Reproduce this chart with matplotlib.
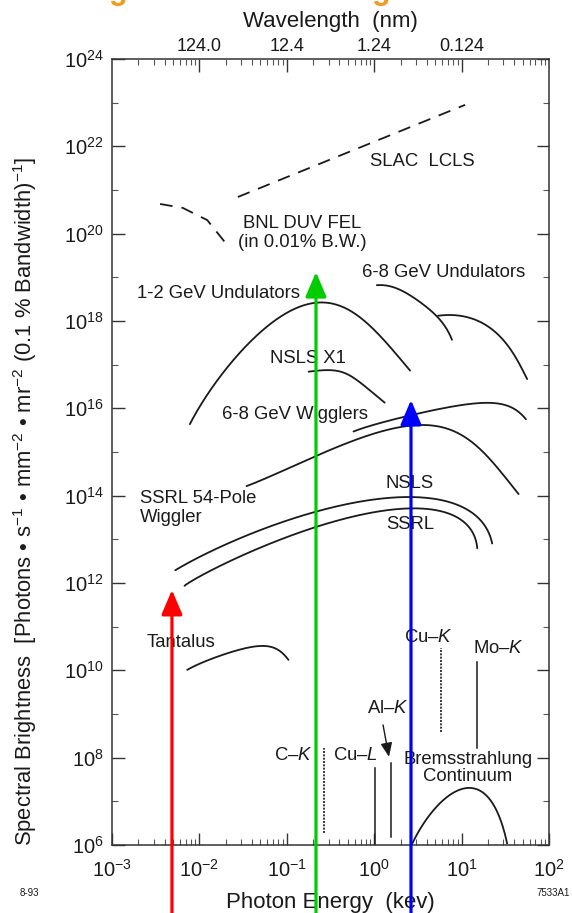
import numpy as np
import matplotlib
matplotlib.use("Agg")
import matplotlib.pyplot as plt
from matplotlib.ticker import FixedLocator, NullFormatter, LogLocator
from matplotlib.transforms import blended_transform_factory

plt.rcParams['font.family'] = ['Liberation Sans', 'DejaVu Sans']
plt.rcParams['mathtext.fontset'] = 'custom'
plt.rcParams['mathtext.rm'] = 'Liberation Sans'
plt.rcParams['mathtext.it'] = 'Liberation Sans:italic'
plt.rcParams['mathtext.bf'] = 'Liberation Sans:bold'

# ---------------- data (log10 of photon energy [keV], log10 of brightness) ----------------
slac_lcls_logE = [-1.56, 1.04]
slac_lcls_logB = [20.84, 22.95]

bnl_fel_logE = [-2.45, -2.19, -1.91, -1.71]
bnl_fel_logB = [20.68, 20.59, 20.31, 19.81]

und12_logE = [-2.11, -1.88, -1.61, -1.31, -1.00, -0.70, -0.47, -0.16, 0.10, 0.41]
und12_logB = [15.66, 16.34, 17.11, 17.79, 18.21, 18.37, 18.34, 18.10, 17.64, 16.84]

und68a_logE = [0.03, 0.30, 0.52, 0.72, 0.89]
und68a_logB = [18.82, 18.71, 18.44, 18.10, 17.57]
und68b_logE = [0.73, 1.06, 1.36, 1.59, 1.75]
und68b_logB = [18.12, 18.09, 17.79, 17.26, 16.67]

nslsx1_logE = [-0.75, -0.43, -0.20, 0.12]
nslsx1_logB = [16.84, 16.86, 16.65, 16.13]

wig68_logE = [-0.24, 0.10, 0.49, 0.91, 1.29, 1.52, 1.74]
wig68_logB = [15.47, 15.67, 15.89, 16.04, 16.13, 16.05, 15.75]

ssrl54_logE = [-1.46, -1.08, -0.70, -0.24, 0.22, 0.52, 0.83, 1.06, 1.44, 1.63]
ssrl54_logB = [14.21, 14.55, 14.89, 15.28, 15.50, 15.58, 15.57, 15.28, 14.66, 14.06]

nsls_logE = [-2.28, -1.99, -1.61, -1.15, -0.70, -0.24, 0.30, 0.68, 0.98, 1.21, 1.36]
nsls_logB = [12.30, 12.57, 12.99, 13.33, 13.60, 13.83, 13.98, 13.95, 13.75, 13.40, 12.91]

ssrl_logE = [-2.20, -1.92, -1.61, -1.15, -0.70, -0.24, 0.45, 0.68, 0.91, 1.06, 1.21]
ssrl_logB = [11.92, 12.21, 12.53, 12.91, 13.29, 13.56, 13.73, 13.69, 13.48, 13.21, 12.80]

tantalus_logE = [-2.14, -1.88, -1.61, -1.34, -1.15, -0.98]
tantalus_logB = [10.01, 10.25, 10.43, 10.56, 10.51, 10.24]

brems_logE = [0.43, 0.56, 0.72, 0.91, 1.06, 1.25, 1.40, 1.52]
brems_logB = [6.00, 6.50, 6.88, 7.19, 7.30, 7.22, 6.78, 6.04]

# characteristic lines: name, log10 E, log10 B bottom, log10 B top
line_names = ['C-K', 'Cu-L', 'Al-K', 'Cu-K', 'Mo-K']
line_logE = [-0.574, 0.009, 0.192, 0.764, 1.176]
line_logB_low = [6.28, 6.00, 6.18, 8.59, 8.22]
line_logB_high = [8.22, 7.76, 7.88, 10.51, 10.19]
line_dotted = [True, False, False, True, False]

# coloured marker arrows: log10 E, log10 B of tip
arrow_colors = ['#ff0000', '#00cc00', '#0000ff']
arrow_logE = [-2.314, -0.666, 0.421]
arrow_logB = [11.84, 19.12, 16.19]

x_tick_exps = [-3, -2, -1, 0, 1, 2]
y_tick_exps = [6, 8, 10, 12, 14, 16, 18, 20, 22, 24]
wl_tick_E = [0.01, 0.1, 1.0, 10.0]
wl_tick_labels = ['124.0', '12.4', '1.24', '0.124']

# ---------------- figure ----------------
W, H = 572, 913
fig = plt.figure(figsize=(W / 100, H / 100), dpi=100)
ax = fig.add_axes([112 / W, 1 - 845 / H, (549 - 112) / W, (845 - 59) / H])
ax.set_xscale('log')
ax.set_yscale('log')
ax.set_xlim(1e-3, 1e2)
ax.set_ylim(1e6, 1e24)

def p(le, lb):
    return 10 ** np.array(le), 10 ** np.array(lb)

cc = '#1a1a1a'
lw = 1.3
ax.plot(*p(slac_lcls_logE, slac_lcls_logB), color=cc, lw=lw, dashes=(7, 5))
ax.plot(*p(bnl_fel_logE, bnl_fel_logB), color=cc, lw=lw, dashes=(7, 5))
for le, lb in [(und12_logE, und12_logB), (und68a_logE, und68a_logB), (und68b_logE, und68b_logB),
               (nslsx1_logE, nslsx1_logB), (wig68_logE, wig68_logB), (ssrl54_logE, ssrl54_logB),
               (nsls_logE, nsls_logB), (ssrl_logE, ssrl_logB), (tantalus_logE, tantalus_logB),
               (brems_logE, brems_logB)]:
    # smooth through the read points in log space
    t = np.linspace(0, 1, len(le))
    ts = np.linspace(0, 1, 200)
    deg = min(len(le) - 1, 4)
    cx = np.polyfit(t, le, deg)
    cy = np.polyfit(t, lb, deg)
    ax.plot(10 ** np.polyval(cx, ts), 10 ** np.polyval(cy, ts), color=cc, lw=lw,
            solid_capstyle='round')

for le, l0, l1, dot in zip(line_logE, line_logB_low, line_logB_high, line_dotted):
    ax.plot([10 ** le, 10 ** le], [10 ** l0, 10 ** l1], color=cc,
            lw=1.2 if dot else 1.1, ls=(0, (1.2, 0.8)) if dot else '-')

# Al-K arrow
ax.annotate('', xy=(10 ** 0.169, 10 ** 8.02), xytext=(10 ** 0.101, 10 ** 8.75),
            arrowprops=dict(arrowstyle='-|>,head_width=0.25,head_length=0.6', color=cc,
                            lw=1.0, shrinkA=0, shrinkB=0, mutation_scale=14))

# ---------------- labels ----------------
fs = 13.3
ax.text(10 ** -0.048, 10 ** 21.66, 'SLAC  LCLS', fontsize=fs, va='center', ha='left', color=cc)
ax.text(10 ** -0.826, 10 ** 20.02, 'BNL DUV FEL\n(in 0.01% B.W.)', fontsize=fs, va='center',
        ha='center', multialignment='center', color=cc, linespacing=1.15)
ax.text(10 ** -0.140, 10 ** 19.12, '6-8 GeV Undulators', fontsize=fs, va='center', color=cc)
ax.text(10 ** -2.714, 10 ** 18.64, '1-2 GeV Undulators', fontsize=fs, va='center', color=cc)
ax.text(10 ** -1.192, 10 ** 17.15, 'NSLS X1', fontsize=fs, va='center', color=cc)
ax.text(10 ** -1.741, 10 ** 15.85, '6-8 GeV Wigglers', fontsize=fs, va='center', color=cc)
ax.text(10 ** -2.680, 10 ** 13.72, 'SSRL 54-Pole\nWiggler', fontsize=fs, va='center',
        color=cc, linespacing=1.1)
ax.text(10 ** 0.135, 10 ** 14.29, 'NSLS', fontsize=fs, va='center', color=cc)
ax.text(10 ** 0.135, 10 ** 13.33, 'SSRL', fontsize=fs, va='center', color=cc)
ax.text(10 ** -2.600, 10 ** 10.63, 'Tantalus', fontsize=fs, va='center', color=cc)
ax.text(10 ** 0.341, 10 ** 10.76, 'Cu\u2013$K$', fontsize=fs, va='center', color=cc)
ax.text(10 ** 1.130, 10 ** 10.51, 'Mo\u2013$K$', fontsize=fs, va='center', color=cc)
ax.text(10 ** -0.082, 10 ** 9.12, 'Al\u2013$K$', fontsize=fs, va='center', color=cc)
ax.text(10 ** -1.146, 10 ** 8.06, 'C\u2013$K$', fontsize=fs, va='center', color=cc)
ax.text(10 ** -0.471, 10 ** 8.06, 'Cu\u2013$L$', fontsize=fs, va='center', color=cc)
ax.text(10 ** 1.073, 10 ** 7.76, 'Bremsstrahlung\nContinuum', fontsize=fs, va='center',
        ha='center', multialignment='center', color=cc, linespacing=1.0)

# ---------------- axes styling ----------------
for s in ax.spines.values():
    s.set_color('#333333')
    s.set_linewidth(1.1)
ax.xaxis.set_major_locator(FixedLocator([10.0 ** e for e in x_tick_exps]))
ax.set_xticklabels(['$10^{%d}$' % e for e in x_tick_exps])
ax.yaxis.set_major_locator(FixedLocator([10.0 ** e for e in y_tick_exps]))
ax.set_yticklabels(['$10^{%d}$' % e for e in y_tick_exps])
ax.xaxis.set_minor_locator(LogLocator(base=10, subs=np.arange(2, 10), numticks=100))
ax.yaxis.set_minor_locator(FixedLocator([10.0 ** e for e in range(7, 24, 2)]))
ax.xaxis.set_minor_formatter(NullFormatter())
ax.yaxis.set_minor_formatter(NullFormatter())
ax.tick_params(which='major', direction='in', length=9, width=1.0, color='#333333',
               labelsize=14.5, labelcolor=cc, right=True, top=False)
ax.tick_params(axis='x', which='major', pad=10)
ax.tick_params(axis='y', which='major', pad=6)
ax.tick_params(which='minor', direction='in', length=4, width=0.8, color='#555555', right=True, top=False)
ax.set_xlabel('Photon Energy  (kev)', fontsize=16, color=cc, labelpad=8)

ax2 = ax.twiny()
ax2.set_xscale('log')
ax2.set_xlim(ax.get_xlim())
ax2.xaxis.set_major_locator(FixedLocator(wl_tick_E))
ax2.set_xticklabels(wl_tick_labels)
ax2.xaxis.set_minor_locator(LogLocator(base=10, subs=np.arange(2, 10), numticks=100))
ax2.xaxis.set_minor_formatter(NullFormatter())
ax2.tick_params(which='major', direction='in', length=9, width=1.0, color='#333333',
                labelsize=13, labelcolor=cc, pad=3)
ax2.tick_params(which='minor', direction='in', length=4, width=0.8, color='#555555')
ax2.set_xlabel('Wavelength  (nm)', fontsize=16, color=cc, labelpad=8)
for s in ax2.spines.values():
    s.set_visible(False)

fig.text(25 / W, 1 - 502 / H,
         'Spectral Brightness  [Photons \u2022 s$^{-1}$ \u2022 mm$^{-2}$ \u2022 mr$^{-2}$ (0.1 % Bandwidth)$^{-1}$]',
         rotation=90, fontsize=15.8, ha='center', va='center', color=cc)

fig.text(20 / W, 1 - 893 / H, '8-93', fontsize=7, color=cc, va='center', ha='left')
fig.text(570 / W, 1 - 893 / H, '7533A1', fontsize=7, color=cc, va='center', ha='right')

# cropped orange title descenders
fig.text(118 / W, 1.0 + 1 / H, 'g', fontsize=22, fontweight='bold', color='#f39a1e',
         ha='center', va='baseline')
fig.text(381 / W, 1.0 + 1 / H, 'g', fontsize=22, fontweight='bold', color='#f39a1e',
         ha='center', va='baseline')

# ---------------- coloured arrows from the bottom edge ----------------
trans = blended_transform_factory(ax.transData, fig.transFigure)
for c, le, lb in zip(arrow_colors, arrow_logE, arrow_logB):
    a = ax.annotate('', xy=(10 ** le, 10 ** lb), xycoords='data', xytext=(10 ** le, 0.0),
                    textcoords=trans, annotation_clip=False,
                    arrowprops=dict(arrowstyle='-|>,head_width=0.32,head_length=0.75',
                                    mutation_scale=20, color=c, lw=2.3, shrinkA=0, shrinkB=0))
    a.set_zorder(10)

fig.savefig('out.png', dpi=100)
